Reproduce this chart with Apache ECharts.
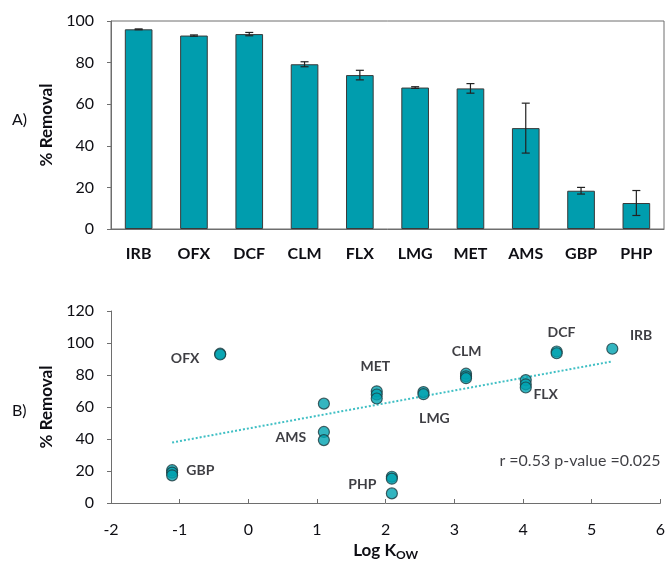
<!DOCTYPE html>
<html>
<head>
<meta charset="utf-8">
<script src="https://cdn.jsdelivr.net/npm/echarts@6/dist/echarts.min.js"></script>
<style>
  html, body { margin: 0; padding: 0; background: #fff; }
  #chart { width: 668px; height: 564px; }
</style>
</head>
<body>
<div id="chart"></div>
<script>
// Panel A: mean removal per compound with error bars
const compounds = ['IRB', 'OFX', 'DCF', 'CLM', 'FLX', 'LMG', 'MET', 'AMS', 'GBP', 'PHP'];
const removalMean = [96.0, 93.0, 93.7, 79.2, 74.0, 68.0, 67.6, 48.5, 18.4, 12.5];
const removalErr  = [0.2, 0.3, 0.8, 1.2, 2.3, 0.4, 2.3, 12.0, 1.6, 6.0];
const yTicksA = [0, 20, 40, 60, 80, 100];

// Panel B: replicate removal versus log Kow
const pointNames  = ['IRB', 'OFX', 'OFX', 'DCF', 'DCF', 'CLM', 'CLM', 'CLM', 'FLX', 'FLX', 'FLX',
                     'LMG', 'LMG', 'MET', 'MET', 'MET', 'AMS', 'AMS', 'AMS', 'GBP', 'GBP', 'GBP',
                     'PHP', 'PHP', 'PHP'];
const pointLogKow = [5.30, -0.41, -0.41, 4.49, 4.49, 3.17, 3.17, 3.17, 4.04, 4.04, 4.04,
                     2.55, 2.55, 1.87, 1.87, 1.87, 1.10, 1.10, 1.10, -1.11, -1.11, -1.11,
                     2.09, 2.09, 2.09];
const pointRemoval = [96.4, 93.3, 92.8, 94.7, 93.6, 80.8, 79.2, 78.0, 76.8, 74.2, 72.2,
                      69.3, 68.0, 69.8, 67.8, 65.3, 62.1, 44.4, 39.3, 20.5, 19.0, 17.3,
                      16.4, 15.2, 6.0];
// Fitted trend line end points
const trendLogKow = [-1.11, 5.30];
const trendRemoval = [37.8, 88.5];
// Compound labels placed beside the points (data coordinates)
const labelNames = ['OFX', 'MET', 'CLM', 'DCF', 'IRB', 'FLX', 'LMG', 'AMS', 'GBP', 'PHP'];
const labelX = [-0.92, 1.85, 3.18, 4.56, 5.72, 4.33, 2.71, 0.62, -0.70, 1.66];
const labelY = [90.5, 85.5, 94.7, 106.3, 104.7, 67.7, 52.8, 40.7, 20.6, 11.6];
const statsText = 'r =0.53 p-value =0.025';
const statsPos = [4.83, 26.2];
const xTicksB = [-2, -1, 0, 1, 2, 3, 4, 5, 6];
const yTicksB = [0, 20, 40, 60, 80, 100, 120];

const FONT = 'Lato, "Open Sans", sans-serif';
const TEXT = '#0e0e14';
const AXIS = '#6e6e6e';
const TEAL = '#009dae';

const chart = echarts.init(document.getElementById('chart'), null, { renderer: 'canvas' });

const tickLabel = { fontFamily: FONT, fontSize: 16, color: TEXT };
const axisTitle = { fontFamily: FONT, fontSize: 17, fontWeight: 'bold', color: TEXT };

chart.setOption({
  animation: false,
  textStyle: { fontFamily: FONT },
  grid: [
    { left: 111, top: 21, width: 553, height: 208, show: true, borderColor: AXIS, borderWidth: 1, backgroundColor: 'transparent' },
    { left: 111, top: 311, width: 552, height: 192 }
  ],
  xAxis: [
    {
      gridIndex: 0, type: 'category', data: compounds,
      axisLine: { lineStyle: { color: AXIS } },
      axisTick: { show: false },
      axisLabel: { fontFamily: FONT, fontSize: 16, fontWeight: 'bold', color: TEXT, margin: 17, interval: 0 }
    },
    {
      gridIndex: 1, type: 'value', min: xTicksB[0], max: xTicksB[xTicksB.length - 1], interval: 1,
      axisLine: { onZero: false, lineStyle: { color: AXIS } },
      axisTick: { inside: true, length: 4, lineStyle: { color: AXIS } },
      splitLine: { show: false },
      axisLabel: Object.assign({ margin: 19 }, tickLabel),
      name: 'Log K{sub|OW}',
      nameLocation: 'middle', nameGap: 38,
      nameTextStyle: Object.assign({}, axisTitle, {
        rich: { sub: { fontFamily: FONT, fontSize: 12, fontWeight: 'bold', color: TEXT, verticalAlign: 'bottom', padding: [8, 0, 0, 0] } }
      })
    }
  ],
  yAxis: [
    {
      gridIndex: 0, type: 'value', min: yTicksA[0], max: yTicksA[yTicksA.length - 1], interval: 20,
      axisLine: { show: true, lineStyle: { color: AXIS } },
      axisTick: { show: true, length: 4, lineStyle: { color: AXIS } },
      splitLine: { show: false },
      axisLabel: Object.assign({ margin: 17 }, tickLabel),
      name: '% Removal', nameLocation: 'middle', nameGap: 52, nameRotate: 90,
      nameTextStyle: axisTitle
    },
    {
      gridIndex: 1, type: 'value', min: yTicksB[0], max: yTicksB[yTicksB.length - 1], interval: 20,
      axisLine: { show: true, onZero: false, lineStyle: { color: AXIS } },
      axisTick: { show: true, length: 4, lineStyle: { color: AXIS } },
      splitLine: { show: false },
      axisLabel: Object.assign({ margin: 17 }, tickLabel),
      name: '% Removal', nameLocation: 'middle', nameGap: 52, nameRotate: 90,
      nameTextStyle: axisTitle
    }
  ],
  graphic: [
    { type: 'text', left: 12, top: 112, style: { text: 'A)', fontFamily: FONT, fontSize: 16, fill: TEXT } },
    { type: 'text', left: 12, top: 403, style: { text: 'B)', fontFamily: FONT, fontSize: 16, fill: TEXT } }
  ],
  series: [
    {
      type: 'bar', xAxisIndex: 0, yAxisIndex: 0,
      data: removalMean, barWidth: '50%',
      itemStyle: { color: TEAL, borderColor: '#3a3a3a', borderWidth: 1 }
    },
    {
      type: 'custom', xAxisIndex: 0, yAxisIndex: 0,
      data: removalMean.map((m, i) => [i, m - removalErr[i], m + removalErr[i]]),
      renderItem: function (params, api) {
        const lo = api.coord([api.value(0), api.value(1)]);
        const hi = api.coord([api.value(0), api.value(2)]);
        const w = 4;
        const style = { stroke: '#222', lineWidth: 1.2 };
        return {
          type: 'group',
          children: [
            { type: 'line', shape: { x1: lo[0], y1: lo[1], x2: hi[0], y2: hi[1] }, style: style },
            { type: 'line', shape: { x1: lo[0] - w, y1: lo[1], x2: lo[0] + w, y2: lo[1] }, style: style },
            { type: 'line', shape: { x1: hi[0] - w, y1: hi[1], x2: hi[0] + w, y2: hi[1] }, style: style }
          ]
        };
      },
      z: 3
    },
    {
      type: 'line', xAxisIndex: 1, yAxisIndex: 1,
      data: trendLogKow.map((x, i) => [x, trendRemoval[i]]),
      symbol: 'none',
      lineStyle: { color: '#3fbfc4', width: 2, type: [2, 2] },
      z: 2
    },
    {
      type: 'scatter', xAxisIndex: 1, yAxisIndex: 1,
      data: pointLogKow.map((x, i) => ({ value: [x, pointRemoval[i]], name: pointNames[i] })),
      symbolSize: 11,
      itemStyle: { color: '#00a2b0', borderColor: '#1d3b40', borderWidth: 1.2 },
      z: 3
    },
    {
      type: 'scatter', xAxisIndex: 1, yAxisIndex: 1,
      data: labelNames.map((n, i) => ({ value: [labelX[i], labelY[i]], name: n }))
        .concat([{ value: statsPos, name: statsText, label: { fontWeight: 'normal', fontSize: 16 } }]),
      symbolSize: 0,
      silent: true,
      label: {
        show: true, position: 'inside', formatter: '{b}',
        fontFamily: FONT, fontSize: 14, fontWeight: 'bold', color: TEXT
      },
      z: 4
    }
  ]
});
</script>
</body>
</html>
